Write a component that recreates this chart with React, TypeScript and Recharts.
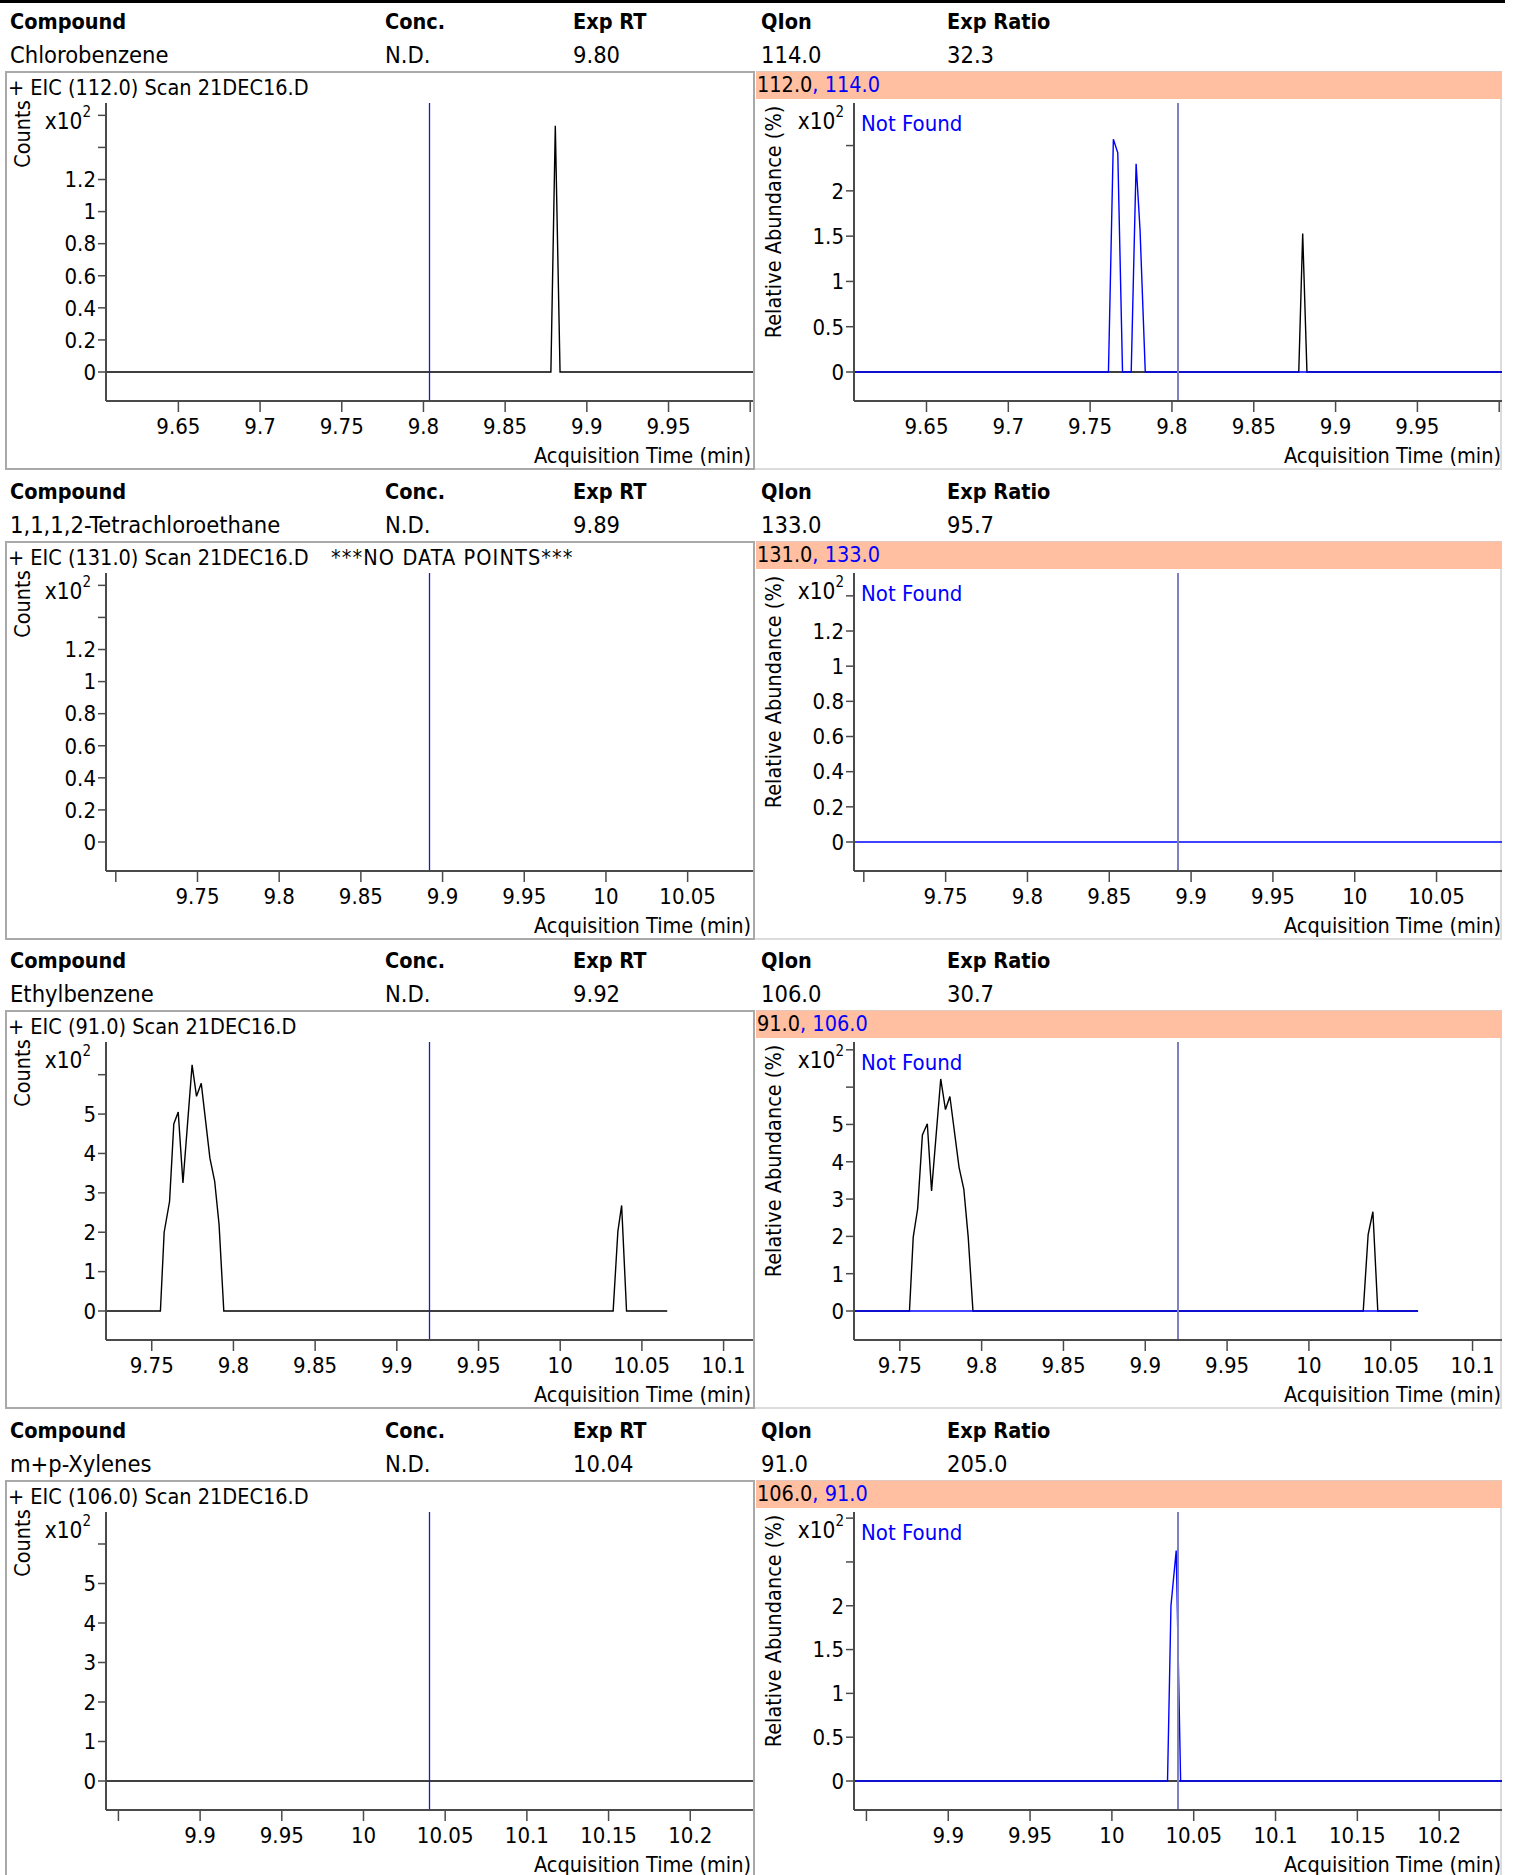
import React from 'react';
import { LineChart, Line, XAxis, YAxis, ReferenceLine } from 'recharts';

const FONT = "'DejaVu Sans Condensed', 'DejaVu Sans', sans-serif";
const FS = 21.5;
const FS_TICK = 22;
const FS_HEAD = 23.5;
const FS_HEAD_BOLD = 21.5;

// ---------- header table ----------
const headerLabels = ['Compound', 'Conc.', 'Exp RT', 'QIon', 'Exp Ratio'];
const compoundNames = ['Chlorobenzene', '1,1,1,2-Tetrachloroethane', 'Ethylbenzene', 'm+p-Xylenes'];
const concValues = ['N.D.', 'N.D.', 'N.D.', 'N.D.'];
const expRTs = ['9.80', '9.89', '9.92', '10.04'];
const qIons = ['114.0', '133.0', '106.0', '91.0'];
const expRatios = ['32.3', '95.7', '30.7', '205.0'];
const eicIons = ['112.0', '131.0', '91.0', '106.0'];
const qualTargets = ['112.0', '131.0', '91.0', '106.0'];
const qualQualifiers = ['114.0', '133.0', '106.0', '91.0'];
const noDataFlags = [false, true, false, false];

// ---------- retention-time markers (min) ----------
const rtMarkers = [9.8037, 9.892, 9.92, 10.0404];
const xHalfWidth = 0.198;

// ---------- x ticks ----------
const xTicks1 = [9.65, 9.7, 9.75, 9.8, 9.85, 9.9, 9.95, 10.0];
const xHidden1 = [10.0];
const xTicks2 = [9.7, 9.75, 9.8, 9.85, 9.9, 9.95, 10.0, 10.05];
const xHidden2 = [9.7];
const xTicks3 = [9.75, 9.8, 9.85, 9.9, 9.95, 10.0, 10.05, 10.1];
const xHidden3: number[] = [];
const xTicks4 = [9.85, 9.9, 9.95, 10.0, 10.05, 10.1, 10.15, 10.2];
const xHidden4 = [9.85];

// ---------- y ticks (x10^2) ----------
const yTicksSmall = [0, 0.2, 0.4, 0.6, 0.8, 1.0, 1.2, 1.4, 1.6];
const yHiddenSmall = [1.4, 1.6];
const yTicksHalf = [0, 0.5, 1.0, 1.5, 2.0, 2.5, 3.0];
const yHiddenHalf = [2.5, 3.0];
const yTicksUnit = [0, 1, 2, 3, 4, 5, 6, 7];
const yHiddenUnit = [6, 7];

// ---------- y axis maxima (x10^2) ----------
const yMaxLeft = [1.677, 1.677, 6.83, 6.81];
const yMaxRight = [2.97, 1.53, 7.21, 3.07];

// ---------- traces [time, abundance x10^2] ----------
const eic1 = [[9.6057, 0], [9.878, 0], [9.8807, 1.535], [9.8836, 0], [10.0017, 0]];
const qual1Target = [[9.6057, 0], [9.8775, 0], [9.8799, 1.53], [9.8825, 0], [10.0017, 0]];
const qual1Qualifier = [
  [9.6057, 0], [9.7612, 0], [9.7642, 2.57], [9.7669, 2.42], [9.7698, 0], [9.7751, 0],
  [9.7781, 2.3], [9.7805, 1.57], [9.7837, 0], [10.0017, 0],
];
const eic2: number[][] = [];
const qual2Target: number[][] = [];
const qual2Qualifier = [[9.694, 0], [10.09, 0]];
const eic3 = [
  [9.722, 0], [9.7553, 0], [9.7576, 2.0], [9.7609, 2.78], [9.7635, 4.75], [9.7662, 5.05],
  [9.7691, 3.25], [9.7747, 6.25], [9.7774, 5.45], [9.7803, 5.78], [9.7856, 3.88],
  [9.7885, 3.3], [9.7912, 2.2], [9.7941, 0], [10.0324, 0], [10.0353, 2.02],
  [10.0376, 2.68], [10.0406, 0], [10.0655, 0],
];
const qual3Target = [
  [9.722, 0], [9.7559, 0], [9.7582, 1.98], [9.7609, 2.74], [9.7638, 4.72], [9.7668, 5.02],
  [9.7694, 3.22], [9.775, 6.22], [9.7779, 5.4], [9.7806, 5.75], [9.7862, 3.85],
  [9.7891, 3.27], [9.7918, 1.98], [9.7947, 0], [10.0332, 0], [10.0362, 2.05],
  [10.0391, 2.66], [10.0421, 0], [10.0667, 0],
];
const qual3Qualifier = [[9.722, 0], [10.0667, 0]];
const eic4 = [[9.8424, 0], [10.2384, 0]];
const qual4Target = [[9.8424, 0], [10.2384, 0]];
const qual4Qualifier = [
  [9.8424, 0], [10.034, 0], [10.0361, 2.0], [10.0393, 2.63], [10.042, 0], [10.2384, 0],
];

const xTickSets = [xTicks1, xTicks2, xTicks3, xTicks4];
const xHiddenSets = [xHidden1, xHidden2, xHidden3, xHidden4];
const leftYTicks = [yTicksSmall, yTicksSmall, yTicksUnit.slice(0, 7), yTicksUnit.slice(0, 7)];
const leftYHidden = [yHiddenSmall, yHiddenSmall, [6], [6]];
const rightYTicks = [yTicksHalf.slice(0, 6), yTicksSmall.slice(0, 8), yTicksUnit, yTicksHalf];
const rightYHidden = [[2.5], [1.4], yHiddenUnit, yHiddenHalf];
const eicTraces = [eic1, eic2, eic3, eic4];
const qualTargetTraces = [qual1Target, qual2Target, qual3Target, qual4Target];
const qualQualifierTraces = [qual1Qualifier, qual2Qualifier, qual3Qualifier, qual4Qualifier];

const BLOCK_H = 469.5;
const BLACK = '#000000';
const BLUE = '#0000ff';
const AXIS = '#4a4a4a';

const toPts = (arr: number[][]) => arr.map(([t, v]) => ({ t, v }));
const fmt = (v: number) => String(Number(v.toFixed(2)));
const near = (list: number[], v: number) => list.some((h) => Math.abs(h - v) < 1e-6);

type Trace = { pts: number[][]; color: string };

function Chart(props: {
  left: number; top: number; width: number; yAxisW: number; mLeft: number; mRight: number;
  marker: number; xTicks: number[]; xHidden: number[]; yMax: number; yTicks: number[];
  yHidden: number[]; traces: Trace[]; markerColor: string; markerWidth: number;
}) {
  const { marker, yMax } = props;
  const yMin = (-yMax * 29) / 269;
  const tickStyle = { fill: '#000', fontSize: FS_TICK, fontFamily: FONT };
  return (
    <div style={{ position: 'absolute', left: props.left, top: props.top }}>
      <LineChart
        width={props.width}
        height={400}
        margin={{ top: 32, right: props.mRight, bottom: 0, left: props.mLeft }}
      >
        <XAxis
          type="number"
          dataKey="t"
          domain={[marker - xHalfWidth, marker + xHalfWidth]}
          allowDataOverflow
          ticks={props.xTicks}
          interval={0}
          tickFormatter={(v: number) => (near(props.xHidden, v) ? '' : fmt(v))}
          height={70}
          tickSize={11}
          tickMargin={6}
          tick={tickStyle}
          axisLine={{ stroke: AXIS, strokeWidth: 2 }}
          tickLine={{ stroke: AXIS, strokeWidth: 1.5 }}
        />
        <YAxis
          type="number"
          domain={[yMin, yMax]}
          allowDataOverflow
          ticks={props.yTicks}
          interval={0}
          tickFormatter={(v: number) => (near(props.yHidden, v) ? '' : fmt(v))}
          width={props.yAxisW}
          tickSize={8}
          tickMargin={2}
          tick={tickStyle}
          axisLine={{ stroke: AXIS, strokeWidth: 2 }}
          tickLine={{ stroke: AXIS, strokeWidth: 1.5 }}
        />
        {props.traces.map((tr, i) => (
          <Line
            key={i}
            data={toPts(tr.pts)}
            dataKey="v"
            type="linear"
            stroke={tr.color}
            strokeWidth={1.4}
            dot={false}
            activeDot={false}
            isAnimationActive={false}
          />
        ))}
        <ReferenceLine x={marker} stroke={props.markerColor} strokeWidth={props.markerWidth} />
      </LineChart>
    </div>
  );
}

const abs = (s: React.CSSProperties): React.CSSProperties => ({
  position: 'absolute',
  whiteSpace: 'nowrap',
  lineHeight: 1,
  ...s,
});

function XTen({ right, cy }: { right: number; cy: number }) {
  return (
    <div style={abs({ right: 1514 - right, top: cy - 11, fontSize: 22.5 })}>
      x10<sup style={{ fontSize: 15, verticalAlign: 'top', position: 'relative', top: -5 }}>2</sup>
    </div>
  );
}

function Block({ i }: { i: number }) {
  const T = i * BLOCK_H;
  const headerCols = [10, 385, 573, 761, 947];
  const rowVals = [compoundNames[i], concValues[i], expRTs[i], qIons[i], expRatios[i]];
  return (
    <div style={{ position: 'absolute', left: 0, top: T, width: 1514, height: BLOCK_H }}>
      {headerLabels.map((h, k) => (
        <div key={h} style={abs({ left: headerCols[k], top: 11, fontSize: FS_HEAD_BOLD, fontWeight: 'bold' })}>
          {h}
        </div>
      ))}
      {rowVals.map((h, k) => (
        <div key={k} style={abs({ left: headerCols[k], top: 44, fontSize: FS_HEAD })}>
          {h}
        </div>
      ))}
      {/* left panel box */}
      <div
        style={{
          position: 'absolute', left: 5, top: 71, width: 750, height: 399,
          boxSizing: 'border-box', border: '2px solid #a9a9a9',
        }}
      />
      {/* right panel box */}
      <div
        style={{
          position: 'absolute', left: 755, top: 71, width: 747, height: 399,
          boxSizing: 'border-box', borderBottom: '2px solid #dcdcdc', borderRight: '2px solid #dcdcdc',
        }}
      />
      <div style={{ position: 'absolute', left: 756, top: 71, width: 746, height: 28, background: '#ffbfa0', borderTop: '1px solid #e2c8bc', boxSizing: 'border-box' }} />
      <div style={abs({ left: 757, top: 74, fontSize: FS })}>
        <span>{qualTargets[i]}</span>
        <span style={{ color: BLUE }}>, {qualQualifiers[i]}</span>
      </div>
      <div style={abs({ left: 8, top: 77, fontSize: FS })}>
        + EIC ({eicIons[i]}) Scan 21DEC16.D
      </div>
      {noDataFlags[i] && (
        <div style={abs({ left: 331, top: 77, fontSize: FS, letterSpacing: 1.1 })}>***NO DATA POINTS***</div>
      )}
      <Chart
        left={0} top={71} width={755} yAxisW={100} mLeft={6} mRight={2}
        marker={rtMarkers[i]} xTicks={xTickSets[i]} xHidden={xHiddenSets[i]}
        yMax={yMaxLeft[i]} yTicks={leftYTicks[i]} yHidden={leftYHidden[i]}
        traces={[{ pts: eicTraces[i], color: BLACK }]}
        markerColor="#1a1acc" markerWidth={1.3}
      />
      <Chart
        left={755} top={71} width={747} yAxisW={99} mLeft={0} mRight={0}
        marker={rtMarkers[i]} xTicks={xTickSets[i]} xHidden={xHiddenSets[i]}
        yMax={yMaxRight[i]} yTicks={rightYTicks[i]} yHidden={rightYHidden[i]}
        traces={[
          { pts: qualTargetTraces[i], color: BLACK },
          { pts: qualQualifierTraces[i], color: BLUE },
        ]}
        markerColor="#7f7fc6" markerWidth={2}
      />
      {/* axis titles */}
      <div style={abs({ left: 23, top: 134, fontSize: FS, transform: 'translate(-50%, -50%) rotate(-90deg)' })}>
        Counts
      </div>
      <div style={abs({ left: 774, top: 222, fontSize: FS, transform: 'translate(-50%, -50%) rotate(-90deg)' })}>
        Relative Abundance (%)
      </div>
      <XTen right={91} cy={121} />
      <XTen right={844} cy={121} />
      <div style={abs({ left: 861, top: 113, fontSize: 22, color: BLUE })}>Not Found</div>
      <div style={abs({ right: 1514 - 751, top: 445, fontSize: FS })}>Acquisition Time (min)</div>
      <div style={abs({ right: 1514 - 1501, top: 445, fontSize: FS })}>Acquisition Time (min)</div>
    </div>
  );
}

export default function App() {
  return (
    <div
      style={{
        position: 'absolute', left: 0, top: 0, width: 1514, height: 1875, overflow: 'hidden',
        background: '#fff', fontFamily: FONT, color: '#000',
      }}
    >
      <div style={{ position: 'absolute', left: 0, top: 0, width: 1505, height: 3, background: '#000' }} />
      {[0, 1, 2, 3].map((i) => (
        <Block key={i} i={i} />
      ))}
    </div>
  );
}
